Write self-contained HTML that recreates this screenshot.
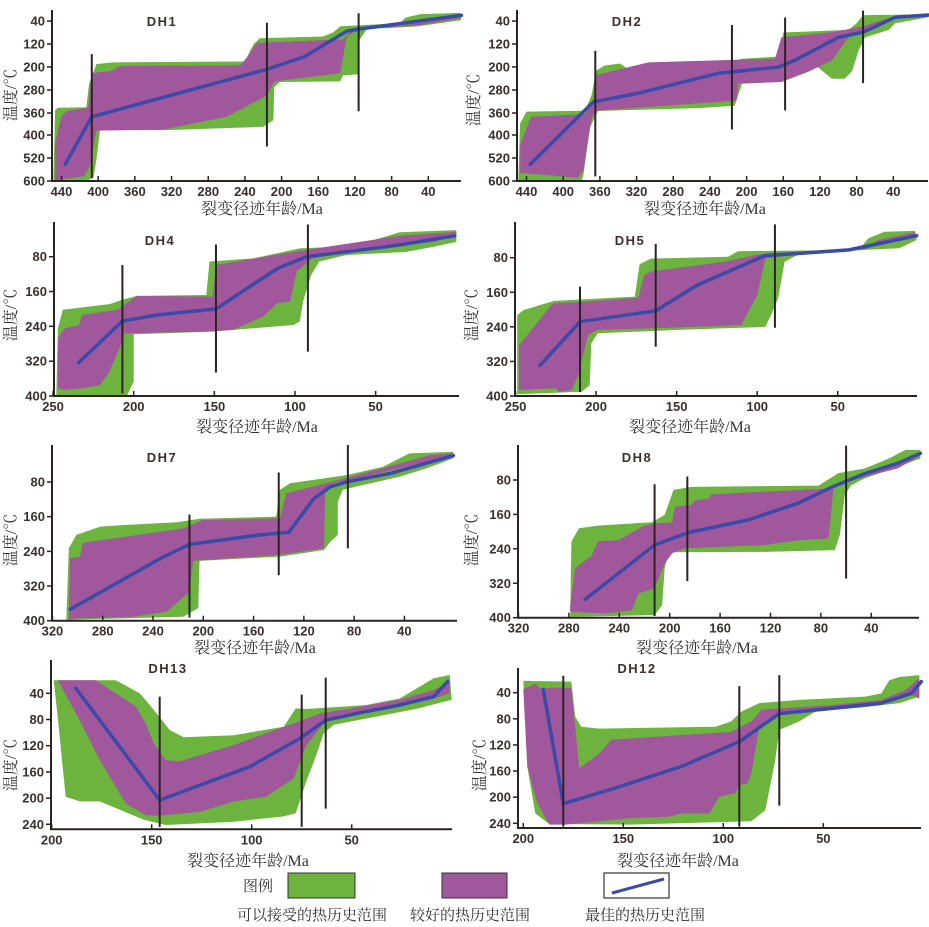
<!DOCTYPE html>
<html><head><meta charset="utf-8">
<style>
html,body{margin:0;padding:0;background:#fff;}
svg{display:block;}
.tk{font-family:"Liberation Sans",sans-serif;font-size:13px;font-weight:bold;fill:#3a3030;}
.ttl{font-family:"Liberation Sans",sans-serif;font-size:13px;font-weight:bold;fill:#3a3030;letter-spacing:1.5px;}
.cn{font-family:"Liberation Serif","Noto Serif CJK SC",serif;font-size:16px;fill:#333;}
.lg{font-family:"Liberation Serif","Noto Serif CJK SC",serif;font-size:15px;fill:#333;}
</style></head>
<body>
<svg id="chart" width="929" height="927" viewBox="0 0 929 927" xmlns="http://www.w3.org/2000/svg">
<g id="panels"></g>
<g id="legend">
  <text class="lg" x="243" y="891">图例</text>
  <rect x="288" y="873" width="67" height="25" fill="#6cb43e" stroke="#333" stroke-width="1"/>
  <rect x="442" y="873" width="65" height="25" fill="#a0579b" stroke="#333" stroke-width="1"/>
  <rect x="604" y="873" width="65" height="25" fill="#fff" stroke="#333" stroke-width="1.2"/>
  <line x1="612" y1="893" x2="664" y2="879" stroke="#3b4aa8" stroke-width="3"/>
  <text class="lg" x="237" y="920">可以接受的热历史范围</text>
  <text class="lg" x="410" y="920">较好的热历史范围</text>
  <text class="lg" x="585" y="920">最佳的热历史范围</text>
</g>
</svg>
<script>
// ---------- data (age Ma, temperature °C) ----------
const DH1_XTICKS=[440,400,360,320,280,240,200,160,120,80,40];
const DH1_YTICKS=[40,120,200,280,360,400,520,600];
const DH1_GREEN_TOP=[[449,600],[447,350],[444,342],[413,340],[410,260],[402,190],[384,184],[240,181],[231,122],[224,100],[155,94],[144,80],[136,58],[71,48],[65,28],[49,16],[5,12]];
const DH1_GREEN_BOT=[[4,37],[53,59],[107,68],[115,105],[116,225],[133,229],[136,250],[202,252],[208,270],[209,373],[220,385],[325,391],[398,391],[402,526],[405,585],[411,597],[447,600]];
const DH1_PURPLE_TOP=[[447,443],[440,365],[433,352],[411,342],[407,221],[387,215],[376,197],[245,194],[238,167],[227,116],[133,104],[122,65],[71,57],[49,37],[5,16]];
const DH1_PURPLE_BOT=[[5,31],[49,54],[118,71],[129,94],[136,221],[147,226],[208,250],[216,299],[260,367],[329,390],[402,392],[409,546],[415,583],[447,597]];
const DH1_BEST=[[436,542],[407,367],[325,302],[216,208],[175,164],[129,75],[116,68],[4,20]];
const DH1_VLINES=[[407,155,591],[216,46,460],[116,13,354]];

const DH2_XTICKS=[440,400,360,320,280,240,200,160,120,80,40];
const DH2_YTICKS=[40,120,200,280,360,400,520,600];
const DH2_GREEN_TOP=[[449,600],[447,379],[440,355],[376,352],[369,297],[364,212],[355,195],[338,188],[329,208],[304,188],[216,180],[205,171],[165,164],[160,80],[89,71],[80,48],[73,20],[2,16]];
const DH2_GREEN_BOT=[[2,27],[38,48],[45,71],[71,97],[78,143],[85,215],[93,241],[107,241],[125,194],[158,246],[205,258],[213,335],[253,343],[362,353],[371,387],[378,580],[380,598],[449,598]];
const DH2_PURPLE_TOP=[[447,451],[435,367],[376,362],[367,313],[365,229],[307,184],[169,171],[162,97],[107,79],[75,60],[38,23],[2,19]];
const DH2_PURPLE_BOT=[[2,25],[35,27],[58,54],[89,97],[107,177],[133,217],[162,252],[209,258],[211,317],[365,352],[369,370],[378,563],[384,589],[447,572]];
const DH2_BEST=[[436,542],[367,321],[318,291],[231,222],[165,200],[147,176],[100,97],[73,79],[38,27],[2,19]];
const DH2_VLINES=[[365,144,584],[216,54,390],[158,28,351],[73,4,256]];

const DH4_XTICKS=[250,200,150,100,50];
const DH4_YTICKS=[80,160,240,320,400];
const DH4_GREEN_TOP=[[248,398],[247,245],[244,202],[215,189],[208,180],[198,170],[155,168],[153,91],[126,84],[97,61],[60,55],[49,39],[35,24],[0,19]];
const DH4_GREEN_BOT=[[0,46],[14,57],[31,69],[68,76],[85,91],[90,122],[95,183],[97,229],[101,237],[151,252],[200,258],[200,367],[204,398],[248,398]];
const DH4_PURPLE_TOP=[[247,268],[243,245],[234,237],[232,214],[210,202],[198,170],[151,172],[149,99],[101,69],[35,32],[0,23]];
const DH4_PURPLE_BOT=[[0,30],[14,46],[45,57],[89,84],[99,114],[103,183],[111,187],[120,218],[138,248],[155,252],[206,256],[208,283],[215,344],[221,375],[232,382],[243,386],[247,382]];
const DH4_BEST=[[234,323],[207,228],[186,214],[149,200],[111,107],[93,80],[56,63],[35,53],[1,32]];
const DH4_VLINES=[[207,99,394],[149,52,346],[92,6,298]];

const DH5_XTICKS=[250,200,150,100,50];
const DH5_YTICKS=[80,160,240,320,400];
const DH5_GREEN_TOP=[[249,396],[249,213],[245,201],[234,189],[226,180],[176,170],[173,95],[166,82],[118,78],[112,65],[37,62],[31,35],[21,20],[2,18]];
const DH5_GREEN_BOT=[[1,39],[12,58],[33,62],[74,72],[83,89],[87,174],[91,209],[95,240],[149,247],[199,255],[203,278],[204,375],[209,390],[249,396]];
const DH5_PURPLE_TOP=[[248,382],[248,282],[245,270],[227,186],[213,183],[174,173],[170,120],[166,112],[120,89],[99,72],[33,58],[25,39],[2,21]];
const DH5_PURPLE_BOT=[[2,28],[19,43],[33,60],[87,78],[95,82],[100,167],[110,236],[162,243],[199,247],[205,259],[211,351],[215,386],[223,391],[225,382],[248,386]];
const DH5_BEST=[[235,330],[210,228],[182,213],[163,203],[137,143],[95,75],[74,70],[43,62],[1,29]];
const DH5_VLINES=[[210,147,391],[163,48,286],[89,3,242]];

const DH7_XTICKS=[320,280,240,200,160,120,80,40];
const DH7_YTICKS=[80,160,240,320,400];
const DH7_GREEN_TOP=[[309,400],[307,233],[301,202],[282,183],[261,179],[221,173],[203,165],[142,160],[139,98],[131,83],[86,64],[57,45],[36,14],[1,10]];
const DH7_GREEN_BOT=[[1,25],[22,48],[44,68],[73,87],[89,98],[93,125],[93,202],[99,218],[104,237],[139,252],[203,262],[204,371],[216,391],[256,394],[309,398]];
const DH7_PURPLE_TOP=[[307,398],[306,256],[298,252],[296,221],[290,218],[216,187],[201,168],[139,164],[134,106],[102,83],[75,62],[38,33],[20,18],[1,14]];
const DH7_PURPLE_BOT=[[1,19],[28,37],[67,64],[97,83],[103,102],[104,233],[139,248],[208,262],[211,333],[229,379],[256,391],[301,395],[307,398]];
const DH7_BEST=[[306,374],[234,256],[211,224],[155,202],[132,196],[112,118],[99,91],[85,79],[51,60],[1,19]];
const DH7_VLINES=[[211,155,393],[140,58,295],[85,-7,233]];

const DH8_XTICKS=[320,280,240,200,160,120,80,40];
const DH8_YTICKS=[80,160,240,320,400];
const DH8_GREEN_TOP=[[279,398],[278,223],[272,192],[257,186],[214,178],[204,161],[197,103],[183,96],[82,93],[66,64],[45,53],[26,30],[13,10],[1,10]];
const DH8_GREEN_BOT=[[1,30],[19,49],[45,76],[56,92],[61,115],[65,208],[69,243],[124,247],[201,248],[204,285],[206,371],[212,394],[278,398]];
const DH8_PURPLE_TOP=[[279,371],[275,285],[262,256],[257,222],[241,220],[220,186],[212,181],[198,178],[196,142],[183,138],[180,127],[169,123],[167,113],[69,99],[58,76],[45,67],[19,41],[1,18]];
const DH8_PURPLE_BOT=[[1,23],[19,53],[45,72],[58,84],[70,99],[74,216],[98,220],[124,231],[188,239],[198,250],[204,274],[212,332],[225,344],[230,383],[251,390],[279,386]];
const DH8_BEST=[[267,357],[212,231],[185,202],[138,173],[98,134],[71,96],[45,65],[19,41],[1,18]];
const DH8_VLINES=[[212,90,396],[186,72,315],[60,0,309]];

const DH13_XTICKS=[200,150,100,50];
const DH13_YTICKS=[40,80,120,160,200,240];
const DH13_GREEN_TOP=[[199,20],[168,20],[156,40],[149,65],[141,96],[134,107],[109,104],[84,91],[78,63],[73,64],[43,58],[26,48],[9,17],[1,12]];
const DH13_GREEN_BOT=[[0,50],[18,64],[59,88],[64,101],[68,137],[73,177],[78,223],[84,228],[109,236],[143,241],[154,233],[176,205],[186,205],[193,198],[197,76],[199,20]];
const DH13_PURPLE_TOP=[[197,20],[178,20],[168,40],[158,60],[153,86],[149,116],[143,142],[136,144],[109,119],[81,88],[66,71],[43,59],[26,50],[9,35],[1,22]];
const DH13_PURPLE_BOT=[[1,40],[11,50],[26,60],[59,76],[64,86],[73,121],[79,170],[93,198],[109,205],[126,221],[146,227],[153,226],[163,208],[176,142],[186,81],[197,20]];
const DH13_BEST=[[188,32],[146,203],[101,152],[76,109],[63,81],[43,68],[26,58],[9,45],[2,22]];
const DH13_VLINES=[[146,45,244],[75,42,244],[63,16,216]];

const DH12_XTICKS=[200,150,100,50];
const DH12_YTICKS=[40,80,120,160,200,240];
const DH12_GREEN_TOP=[[200,22],[176,23],[174,77],[171,92],[162,95],[104,92],[96,84],[91,69],[82,56],[62,51],[29,46],[21,41],[17,21],[12,16],[2,13]];
const DH12_GREEN_BOT=[[2,46],[12,56],[29,62],[54,69],[62,84],[72,97],[74,143],[77,189],[79,220],[86,237],[146,242],[187,241],[194,225],[198,153],[200,22]];
const DH12_PURPLE_TOP=[[200,35],[194,26],[191,35],[186,32],[176,33],[172,156],[162,133],[156,112],[96,100],[86,84],[81,66],[71,64],[46,59],[21,51],[9,36],[2,18]];
const DH12_PURPLE_BOT=[[2,49],[7,41],[29,59],[71,74],[76,84],[82,92],[86,163],[88,179],[92,181],[94,194],[102,199],[107,225],[121,225],[127,230],[146,232],[179,242],[187,242],[193,209],[198,153],[200,35]];
const DH12_BEST=[[190,35],[180,210],[154,186],[121,153],[92,115],[72,72],[46,64],[21,56],[6,41],[1,23]];
const DH12_VLINES=[[180,14,245],[92,30,245],[72,13,213]];

// ---------- layout (pixel geometry) ----------
const PANELS=[
 {id:'dh1',title:'DH1',tx:162,ty:26,ax:52,right:461,top:10,bottom:181,x0:465,xs:0.917,yT:[40,120,200,280,360,400,520,600],yP:[21,44,67,90,113,135,158,181],
  xt:DH1_XTICKS,yt:DH1_YTICKS,gt:DH1_GREEN_TOP,gb:DH1_GREEN_BOT,pt:DH1_PURPLE_TOP,pb:DH1_PURPLE_BOT,best:DH1_BEST,vl:DH1_VLINES,xlx:262,xly:214,ylx:16,yly:95},
 {id:'dh2',title:'DH2',tx:627,ty:26,ax:517,right:928,top:10,bottom:181,x0:930,xs:0.917,yT:[40,120,200,280,360,400,520,600],yP:[21,44,67,90,113,135,158,181],
  xt:DH2_XTICKS,yt:DH2_YTICKS,gt:DH2_GREEN_TOP,gb:DH2_GREEN_BOT,pt:DH2_PURPLE_TOP,pb:DH2_PURPLE_BOT,best:DH2_BEST,vl:DH2_VLINES,xlx:705,xly:214,ylx:479,yly:100},
 {id:'dh4',title:'DH4',tx:160,ty:245,ax:54,right:459,top:222,bottom:396,x0:456.3,xs:1.613,yT:[80,400],yP:[256.7,396],
  xt:DH4_XTICKS,yt:DH4_YTICKS,gt:DH4_GREEN_TOP,gb:DH4_GREEN_BOT,pt:DH4_PURPLE_TOP,pb:DH4_PURPLE_BOT,best:DH4_BEST,vl:DH4_VLINES,xlx:257,xly:432,ylx:16,yly:315},
 {id:'dh5',title:'DH5',tx:630,ty:245,ax:515,right:917,top:222,bottom:396,x0:918.3,xs:1.611,yT:[80,400],yP:[257.7,396],
  xt:DH5_XTICKS,yt:DH5_YTICKS,gt:DH5_GREEN_TOP,gb:DH5_GREEN_BOT,pt:DH5_PURPLE_TOP,pb:DH5_PURPLE_BOT,best:DH5_BEST,vl:DH5_VLINES,xlx:690,xly:432,ylx:477,yly:315},
 {id:'dh7',title:'DH7',tx:162,ty:462,ax:52,right:457,top:445,bottom:620.7,x0:454.7,xs:1.257,yT:[80,400],yP:[482,620.7],
  xt:DH7_XTICKS,yt:DH7_YTICKS,gt:DH7_GREEN_TOP,gb:DH7_GREEN_BOT,pt:DH7_PURPLE_TOP,pb:DH7_PURPLE_BOT,best:DH7_BEST,vl:DH7_VLINES,xlx:255,xly:653,ylx:16,yly:540},
 {id:'dh8',title:'DH8',tx:637,ty:462,ax:518,right:919,top:445,bottom:617.7,x0:921.7,xs:1.26,yT:[80,400],yP:[480,617.7],
  xt:DH8_XTICKS,yt:DH8_YTICKS,gt:DH8_GREEN_TOP,gb:DH8_GREEN_BOT,pt:DH8_PURPLE_TOP,pb:DH8_PURPLE_BOT,best:DH8_BEST,vl:DH8_VLINES,xlx:697,xly:653,ylx:477,yly:540},
 {id:'dh13',title:'DH13',tx:168,ty:673,ax:51,right:452,top:660,bottom:829.3,x0:451.7,xs:2,yT:[40,240],yP:[693.3,824.3],
  xt:DH13_XTICKS,yt:DH13_YTICKS,gt:DH13_GREEN_TOP,gb:DH13_GREEN_BOT,pt:DH13_PURPLE_TOP,pb:DH13_PURPLE_BOT,best:DH13_BEST,vl:DH13_VLINES,xlx:248,xly:866,ylx:16,yly:765},
 {id:'dh12',title:'DH12',tx:637,ty:673,ax:518,right:921,top:668,bottom:828,x0:923.3,xs:2,yT:[40,240],yP:[692.7,823.3],
  xt:DH12_XTICKS,yt:DH12_YTICKS,gt:DH12_GREEN_TOP,gb:DH12_GREEN_BOT,pt:DH12_PURPLE_TOP,pb:DH12_PURPLE_BOT,best:DH12_BEST,vl:DH12_VLINES,xlx:678,xly:866,ylx:485,yly:765}
];

const NS='http://www.w3.org/2000/svg';
function mk(tag,attrs,parent){const e=document.createElementNS(NS,tag);for(const k in attrs)e.setAttribute(k,attrs[k]);parent.appendChild(e);return e;}
function yScale(p,t){const T=p.yT,P=p.yP;let i=0;
  if(t<=T[0]) i=0; else if(t>=T[T.length-1]) i=T.length-2; else {while(i<T.length-2&&t>T[i+1])i++;}
  return P[i]+(t-T[i])*(P[i+1]-P[i])/(T[i+1]-T[i]);}
function xScale(p,a){return p.x0-p.xs*a;}
function pts(p,arr){return arr.map(d=>xScale(p,d[0]).toFixed(1)+','+yScale(p,d[1]).toFixed(1)).join(' ');}

const root=document.getElementById('panels');
PANELS.forEach(p=>{
  const g=mk('g',{},root);
  
  
  const green=mk('polygon',{points:pts(p,p.gt.concat(p.gb)),fill:'#6cb43e'},g);
  
  
  const purple=mk('polygon',{points:pts(p,p.pt.concat(p.pb)),fill:'#a0579b'},g);
  
  
  const best=mk('polyline',{points:pts(p,p.best),fill:'none',stroke:'#3b4aa8','stroke-width':3.5,'stroke-linejoin':'round','stroke-linecap':'round'},g);
  
  
  p.vl.forEach((v,i)=>{
    const y1=Math.max(p.top,yScale(p,v[1]));
    const l=mk('line',{x1:xScale(p,v[0]),x2:xScale(p,v[0]),y1:y1,y2:yScale(p,v[2]),stroke:'#2b2222','stroke-width':2},g);
    
    
  });
  const axes=mk('path',{d:`M${p.ax},${p.top} V${p.bottom} H${p.right}`,fill:'none',stroke:'#2b2222','stroke-width':2},g);
  
  
  p.xt.forEach(a=>{
    const x=xScale(p,a);
    const tk=mk('line',{x1:x,x2:x,y1:p.bottom,y2:p.bottom-5,stroke:'#2b2222','stroke-width':1.5},g);
    
    
    const t=mk('text',{x:x,y:p.bottom+15,'text-anchor':'middle',class:'tk'},g);
    t.textContent=a;
    
    
  });
  p.yt.forEach(v=>{
    const y=yScale(p,v);
    const tk=mk('line',{x1:p.ax-5,x2:p.ax,y1:y,y2:y,stroke:'#2b2222','stroke-width':1.5},g);
    
    
    const t=mk('text',{x:p.ax-7,y:y+4.5,'text-anchor':'end',class:'tk'},g);
    t.textContent=v;
    
    
  });
  const ti=mk('text',{x:p.tx,y:p.ty,'text-anchor':'middle',class:'ttl'},g);
  ti.textContent=p.title;
  
  
  const xl=mk('text',{x:p.xlx,y:p.xly,'text-anchor':'middle',class:'cn'},g);
  xl.textContent='裂变径迹年龄/Ma';
  
  
  const yl=mk('text',{x:p.ylx,y:p.yly,'text-anchor':'middle',class:'cn',transform:`rotate(-90 ${p.ylx} ${p.yly})`},g);
  yl.textContent='温度/℃';
  
  
});
</script>
</body></html>
